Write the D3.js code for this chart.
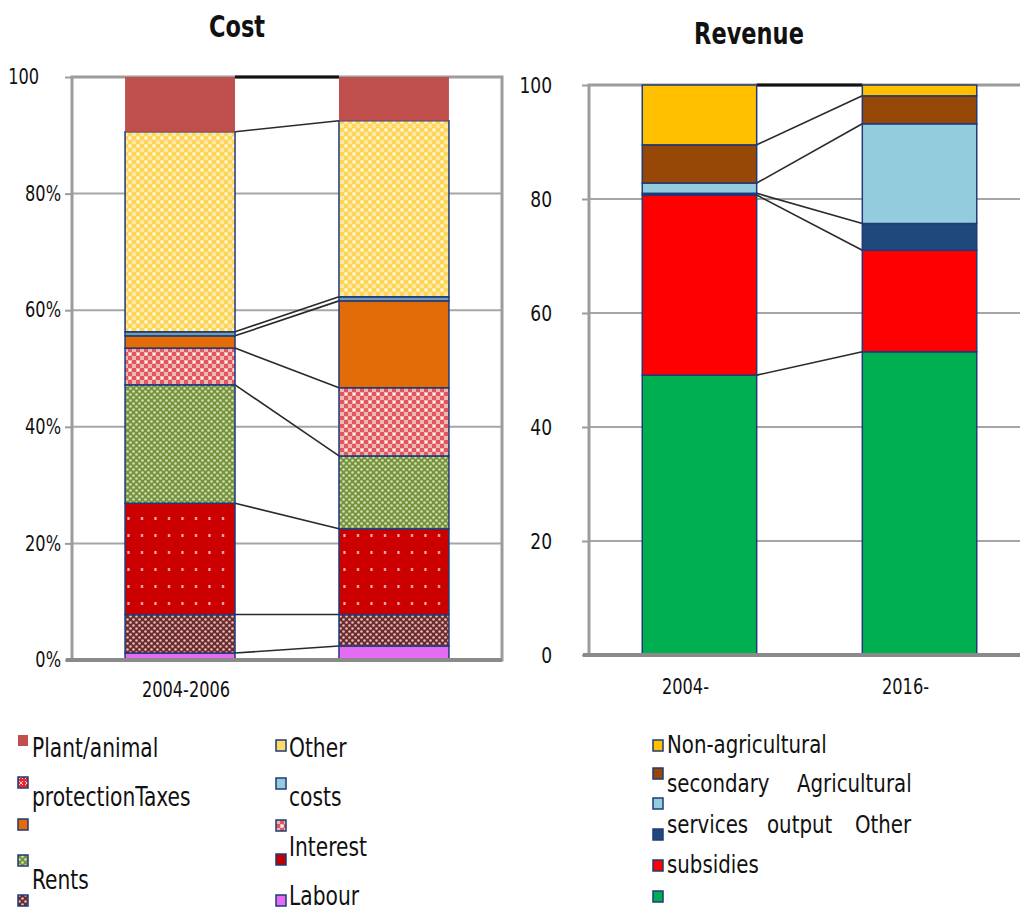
<!DOCTYPE html>
<html><head><meta charset="utf-8">
<script src="https://cdn.jsdelivr.net/npm/d3@7"></script>
<style>
html,body{margin:0;padding:0;background:#fff;}
svg{display:block;}
text{font-family:"DejaVu Sans Condensed","DejaVu Sans",sans-serif;font-stretch:condensed;}
</style></head>
<body>
<script>
// ---------------- DATA ----------------
const costCategories = ["2004-2006", "2016-2018"];
const costCategoryLabels = ["2004-2006", ""];
const costSeries = ["Labour", "RentsPattern", "InterestDots", "Green", "Pink", "Orange", "LightBlue", "Other", "Plant"];
const costValues2004 = [1.2, 6.6, 19.1, 20.3, 6.3, 2.1, 0.7, 34.3, 9.4];
const costValues2016 = [2.4, 5.4, 14.7, 12.5, 11.7, 14.9, 0.7, 30.2, 7.5];
const costTickValues = [0, 20, 40, 60, 80, 100];
const costTickLabels = ["0%", "20%", "40%", "60%", "80%", "100"];

const revCategories = ["2004", "2016"];
const revCategoryLabels = ["2004-", "2016-"];
const revSeries = ["Green", "Red", "Navy", "LightBlue", "Brown", "Yellow"];
const revValues2004 = [49.1, 31.6, 0.3, 1.8, 6.7, 10.5];
const revValues2016 = [53.2, 17.8, 4.7, 17.5, 4.9, 1.9];
const revTickValues = [0, 20, 40, 60, 80, 100];
const revTickLabels = ["0", "20", "40", "60", "80", "100"];

const costLegendLeftText = ["Plant/animal", "protectionTaxes", "", "", "Rents"];
const costLegendRightText = ["Other", "costs", "", "Interest", "Labour"];
const revLegendText = [["Non-agricultural"], ["secondary", "Agricultural"], [], ["services", "output", "Other"], ["subsidies"], []];

// ---------------- STYLE ----------------
const costFill = {
  Labour: "#e46cf2", RentsPattern: "url(#patBrown)", InterestDots: "url(#patDots)",
  Green: "url(#patGreen)", Pink: "url(#patPink)", Orange: "#e36c09",
  LightBlue: "#6f9fb0", Other: "url(#patYellow)", Plant: "#c0504d"
};
const revFill = { Green: "#00b050", Red: "#ff0000", Navy: "#1f497d", LightBlue: "#93cddd", Brown: "#974706", Yellow: "#ffc000" };
const barStroke = "#1f3a7a";

const W = 1020, H = 911;
const svg = d3.select("body").append("svg").attr("width", W).attr("height", H);
const defs = svg.append("defs");

function pat(id, w, h, bg, draw) {
  const p = defs.append("pattern").attr("id", id).attr("patternUnits", "userSpaceOnUse").attr("width", w).attr("height", h);
  p.append("rect").attr("width", w).attr("height", h).attr("fill", bg);
  draw(p);
}
pat("patYellow", 8, 8, "#ffd457", p => {
  p.append("rect").attr("x", 0).attr("y", 0).attr("width", 4).attr("height", 4).attr("fill", "#ffe9a0");
  p.append("rect").attr("x", 4).attr("y", 4).attr("width", 4).attr("height", 4).attr("fill", "#ffe9a0");
  p.append("rect").attr("x", 1).attr("y", 1).attr("width", 2).attr("height", 2).attr("fill", "#fffbe8");
});
pat("patPink", 8, 8, "#e0585e", p => {
  p.append("rect").attr("x", 0).attr("y", 0).attr("width", 4).attr("height", 4).attr("fill", "#f2b3b3");
  p.append("rect").attr("x", 4).attr("y", 4).attr("width", 4).attr("height", 4).attr("fill", "#f2b3b3");
  p.append("rect").attr("x", 1).attr("y", 1).attr("width", 2).attr("height", 2).attr("fill", "#fff0f0");
});
pat("patGreen", 6, 6, "#76923c", p => {
  p.append("circle").attr("cx", 1.5).attr("cy", 1.5).attr("r", 1.3).attr("fill", "#d3e2b5");
  p.append("circle").attr("cx", 4.5).attr("cy", 4.5).attr("r", 1.3).attr("fill", "#d3e2b5");
});
pat("patBrown", 6, 6, "#6e2a2a", p => {
  p.append("circle").attr("cx", 1.5).attr("cy", 1.5).attr("r", 1.3).attr("fill", "#dcc0c0");
  p.append("circle").attr("cx", 4.5).attr("cy", 4.5).attr("r", 1.3).attr("fill", "#dcc0c0");
});
pat("patDots", 13.5, 17, "#cc0000", p => {
  p.append("rect").attr("x", 6).attr("y", 7).attr("width", 2).attr("height", 3).attr("fill", "#f3c4c4");
});
pat("patX", 6, 6, "#e8262b", p => {
  p.append("path").attr("d", "M1,1L5,5M5,1L1,5").attr("stroke", "#ffd0d0").attr("stroke-width", 1);
});

function stretchText(g, x, y, str, size, sy, anchor, weight, fill) {
  return g.append("text")
    .attr("transform", `translate(${x},${y}) scale(1,${sy})`)
    .attr("text-anchor", anchor || "start")
    .attr("font-size", size)
    .attr("font-weight", weight || "normal")
    .attr("fill", fill || "#111")
    .text(str);
}

function panel(opts) {
  const g = svg.append("g");
  const y = d3.scaleLinear().domain([0, 100]).range([opts.bottom, opts.top]);
  const x = d3.scaleBand().domain(opts.categories).range([opts.left, opts.right])
    .paddingInner(opts.pin).paddingOuter(opts.pout);
  g.selectAll("line.grid").data(opts.ticks.filter(t => t > 0 && t < 100)).join("line")
    .attr("x1", opts.left).attr("x2", opts.right)
    .attr("y1", d => y(d)).attr("y2", d => y(d))
    .attr("stroke", "#a6a6a6").attr("stroke-width", 2);
  g.append("rect").attr("x", opts.left).attr("y", opts.top)
    .attr("width", opts.right - opts.left).attr("height", opts.bottom - opts.top)
    .attr("fill", "none").attr("stroke", "#9c9c9c").attr("stroke-width", 3);
  const ax = g.append("g").attr("transform", `translate(${opts.left},0)`)
    .call(d3.axisLeft(y).tickValues(opts.ticks).tickSize(7).tickPadding(opts.tickPad)
      .tickFormat((d, i) => opts.tickLabels[i]));
  ax.select(".domain").remove();
  ax.selectAll(".tick line").attr("stroke", "#9c9c9c").attr("stroke-width", 2);
  ax.selectAll(".tick text").attr("font-size", opts.tickSize).attr("fill", "#111")
    .attr("font-weight", opts.tickWeight).attr("font-family", '"DejaVu Sans Condensed","DejaVu Sans",sans-serif')
    .attr("transform", (d) => `translate(${d === 100 ? opts.topLabelDx : 0},0) scale(1,${opts.tickSy})`);

  const rows = opts.categories.map((c, ci) => {
    const r = { cat: c };
    opts.series.forEach((s, si) => r[s] = opts.values[ci][si]);
    return r;
  });
  const stacked = d3.stack().keys(opts.series)(rows);
  const bw = x.bandwidth();

  const conn = g.append("g");
  stacked.forEach((layer, li) => {
    const a = layer[0], b = layer[1];
    conn.append("line")
      .attr("x1", x(opts.categories[0]) + bw).attr("y1", y(a[1]))
      .attr("x2", x(opts.categories[1])).attr("y2", y(b[1]))
      .attr("stroke", li === stacked.length - 1 ? "#111" : "#2a2a2a")
      .attr("stroke-width", li === stacked.length - 1 ? 3 : 1.6);
  });

  stacked.forEach(layer => {
    g.append("g").selectAll("rect").data(layer).join("rect")
      .attr("x", d => x(d.data.cat))
      .attr("y", d => y(d[1]))
      .attr("width", bw)
      .attr("height", d => y(d[0]) - y(d[1]))
      .attr("fill", opts.fill[layer.key])
      .attr("stroke", opts.noStroke && opts.noStroke.includes(layer.key) ? "none" : barStroke)
      .attr("stroke-width", 1.5);
  });

  g.append("line").attr("x1", opts.left - 6).attr("x2", opts.right)
    .attr("y1", opts.bottom).attr("y2", opts.bottom)
    .attr("stroke", "#8a8a8a").attr("stroke-width", 4);

  opts.categories.forEach((c, i) => {
    stretchText(g, x(c) + bw / 2 + opts.labelDx, opts.labelY, opts.catLabels[i], opts.catSize, 1.2, "middle");
  });
  return { g, x, y };
}

panel({
  categories: costCategories, catLabels: costCategoryLabels,
  series: costSeries, values: [costValues2004, costValues2016], fill: costFill,
  noStroke: ["Plant"],
  left: 72, right: 502, top: 77, bottom: 660, pin: 0.486, pout: 0.248,
  ticks: costTickValues, tickLabels: costTickLabels, tickSize: 18, tickSy: 1.15, tickWeight: "normal", tickPad: 4,
  topLabelDx: -22,
  labelY: 697, labelDx: 6, catSize: 18
});
stretchText(svg, 237, 37, "Cost", 25, 1.2, "middle", "bold");

panel({
  categories: revCategories, catLabels: revCategoryLabels,
  series: revSeries, values: [revValues2004, revValues2016], fill: revFill,
  left: 589, right: 1030, top: 85, bottom: 655, pin: 0.48, pout: 0.242,
  ticks: revTickValues, tickLabels: revTickLabels, tickSize: 19, tickSy: 1.15, tickWeight: "normal", tickPad: 30,
  topLabelDx: 0,
  labelY: 694, labelDx: -14, catSize: 18
});
stretchText(svg, 749, 44, "Revenue", 25, 1.2, "middle", "bold");

const lg = svg.append("g");
const leftKeyFill = ["#c0504d", "url(#patX)", "#e36c09", "url(#patGreen)", "url(#patBrown)"];
const leftKeyY = [735, 777, 819, 855, 895];
const leftTextY = [757, 806, null, null, 889];
const rightKeyFill = ["#ffd966", "#93cddd", "url(#patPink)", "#c00000", "#e46cf2"];
const rightKeyY = [740, 778, 820, 854, 895];
const rightTextY = [757, 806, null, 856, 905];
leftKeyFill.forEach((f, i) => {
  lg.append("rect").attr("x", 18).attr("y", leftKeyY[i]).attr("width", 10).attr("height", 11)
    .attr("fill", f).attr("stroke", i === 0 ? "none" : barStroke).attr("stroke-width", 1.5);
  if (costLegendLeftText[i]) stretchText(lg, 32, leftTextY[i], costLegendLeftText[i], 22.5, 1.15, "start");
});
rightKeyFill.forEach((f, i) => {
  lg.append("rect").attr("x", 276).attr("y", rightKeyY[i]).attr("width", 10).attr("height", 11)
    .attr("fill", f).attr("stroke", barStroke).attr("stroke-width", 1.5);
  if (costLegendRightText[i]) stretchText(lg, 289, rightTextY[i], costLegendRightText[i], 22.5, 1.15, "start");
});
const revKeyFill = ["#ffc000", "#974706", "#93cddd", "#1f497d", "#ff0000", "#00b050"];
const revKeyY = [740, 768, 798, 829, 860, 891];
const revTextY = [753, 792, null, 833, 873, null];
const revWordX = [[667], [667, 797], [], [667, 767, 855], [667], []];
revKeyFill.forEach((f, i) => {
  lg.append("rect").attr("x", 653).attr("y", revKeyY[i]).attr("width", 10).attr("height", 11)
    .attr("fill", f).attr("stroke", barStroke).attr("stroke-width", 1.5);
  revLegendText[i].forEach((w, j) => stretchText(lg, revWordX[i][j], revTextY[i], w, 22, 1.15, "start"));
});
</script>
</body></html>
